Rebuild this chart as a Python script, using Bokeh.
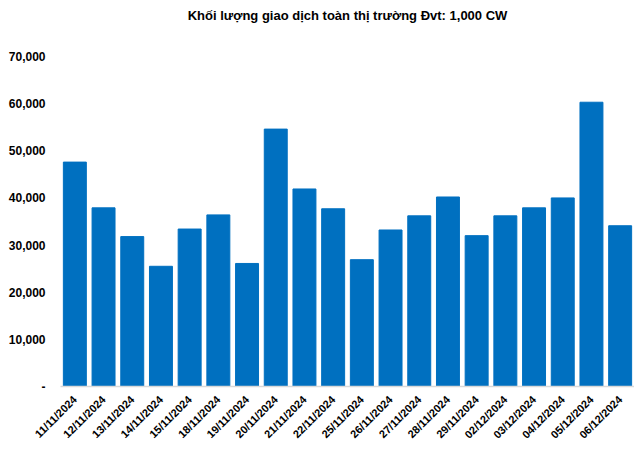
from bokeh.plotting import figure
from bokeh.models import FactorRange, Range1d, FixedTicker, CustomJSTickFormatter, Title
from bokeh.embed import file_html
from bokeh.resources import INLINE
import math

dates = ["11/11/2024", "12/11/2024", "13/11/2024", "14/11/2024", "15/11/2024",
         "18/11/2024", "19/11/2024", "20/11/2024", "21/11/2024", "22/11/2024",
         "25/11/2024", "26/11/2024", "27/11/2024", "28/11/2024", "29/11/2024",
         "02/12/2024", "03/12/2024", "04/12/2024", "05/12/2024", "06/12/2024"]
volumes = [47600, 37900, 31800, 25500, 33400,
           36400, 26100, 54600, 41900, 37700,
           26900, 33200, 36200, 40200, 32000,
           36200, 37900, 40000, 60300, 34100]
y_ticks = [0, 10000, 20000, 30000, 40000, 50000, 60000, 70000]
title_text = "Khối lượng giao dịch toàn thị trường Đvt: 1,000 CW"

FONT = "Liberation Sans"

p = figure(x_range=FactorRange(*dates, range_padding=0),
           y_range=Range1d(0, 70000),
           width=634, height=447,
           output_backend="svg", toolbar_location=None,
           min_border_left=60, min_border_right=0,
           min_border_top=0, min_border_bottom=0)

p.vbar(x=dates, top=volumes, width=0.8, color="#0070C0")

p.title.text = title_text
p.title.align = "center"
p.title.text_font = FONT
p.title.text_font_size = "13px"
p.title.text_font_style = "bold"
p.title.text_color = "#000000"
p.title.offset = -10

# empty spacer between the title and the plot area
p.add_layout(Title(text=" ", text_font_size="24px", standoff=0), "above")

p.xgrid.visible = False
p.ygrid.visible = False
p.outline_line_color = None
p.background_fill_color = "white"
p.border_fill_color = "white"

ya = p.yaxis[0]
ya.ticker = FixedTicker(ticks=y_ticks)
ya.formatter = CustomJSTickFormatter(code="return tick == 0 ? '-' : tick.toLocaleString('en-US');")
ya.axis_line_color = None
ya.major_tick_line_color = None
ya.minor_tick_line_color = None
ya.major_label_text_font = FONT
ya.major_label_text_font_size = "12px"
ya.major_label_text_font_style = "bold"
ya.major_label_text_color = "#000000"
ya.major_label_standoff = 9

xa = p.xaxis[0]
xa.axis_line_color = "#D9D9D9"
xa.axis_line_width = 1.5
xa.major_tick_line_color = None
xa.minor_tick_line_color = None
xa.major_label_orientation = math.pi / 4
xa.major_label_text_font = FONT
xa.major_label_text_font_size = "11px"
xa.major_label_text_font_style = "bold"
xa.major_label_text_color = "#000000"
xa.major_label_standoff = 5

open("out.html", "w").write(file_html(p, INLINE))
